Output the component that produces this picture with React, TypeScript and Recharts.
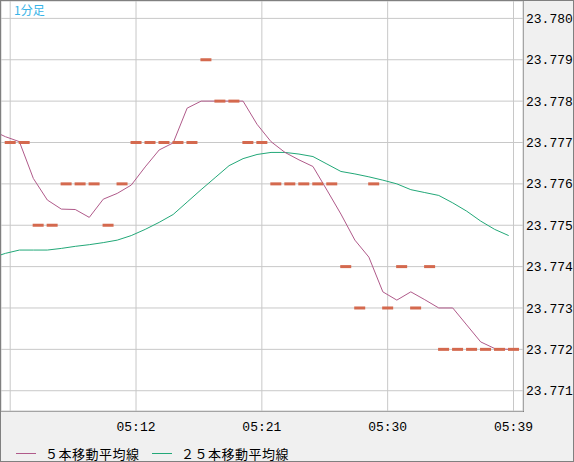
import { CartesianGrid, ComposedChart, Line, Scatter, XAxis, YAxis } from "recharts";

// one-minute bars, 05:02 .. 05:39 (05:02 only feeds the averages, its bar is off the left edge)
const times = [
  "05:02", "05:03", "05:04", "05:05", "05:06", "05:07", "05:08", "05:09", "05:10", "05:11",
  "05:12", "05:13", "05:14", "05:15", "05:16", "05:17", "05:18", "05:19", "05:20", "05:21",
  "05:22", "05:23", "05:24", "05:25", "05:26", "05:27", "05:28", "05:29", "05:30", "05:31",
  "05:32", "05:33", "05:34", "05:35", "05:36", "05:37", "05:38", "05:39",
];
const close = [
  null, 23.777, 23.777, 23.775, 23.775, 23.776, 23.776, 23.776, 23.775, 23.776,
  23.777, 23.777, 23.777, 23.777, 23.777, 23.779, 23.778, 23.778, 23.777, 23.777,
  23.776, 23.776, 23.776, 23.776, 23.776, 23.774, 23.773, 23.776, 23.773, 23.774,
  23.773, 23.774, 23.772, 23.772, 23.772, 23.772, 23.772, 23.772,
];
const ma5 = [
  23.7773, 23.77714, 23.77702, 23.77613, 23.77561, 23.77539, 23.77538, 23.77519, 23.77563, 23.77577,
  23.77597, 23.77641, 23.77682, 23.77699, 23.77783, 23.778, 23.778, 23.778, 23.778, 23.77744,
  23.77702, 23.77676, 23.77658, 23.77642, 23.77585, 23.77527, 23.77464, 23.77423, 23.77339, 23.77319,
  23.77339, 23.7732, 23.773, 23.773, 23.77259, 23.77218, 23.77202, 23.772,
];
const ma25 = [
  23.77421, 23.77432, 23.7744, 23.7744, 23.7744, 23.77444, 23.77449, 23.77453, 23.77458, 23.77464,
  23.77475, 23.7749, 23.77507, 23.77526, 23.77556, 23.77586, 23.77615, 23.77644, 23.77661, 23.77671,
  23.77676, 23.77676, 23.77672, 23.77666, 23.77648, 23.7763, 23.77624, 23.77617, 23.77609, 23.776,
  23.77586, 23.77579, 23.77572, 23.77554, 23.77534, 23.7751, 23.7749, 23.77475,
];

const xTicks = [3, 12, 21, 30, 39];
const xTickLabels = ["", "05:12", "05:21", "05:30", "05:39"];
const yTicks = [23.771, 23.772, 23.773, 23.774, 23.775, 23.776, 23.777, 23.778, 23.779, 23.78];

const PURPLE = "#b05a8a";
const GREEN = "#22a878";
const BAR = "#d4694e";
const MONO = "'Liberation Mono', 'DejaVu Sans Mono', monospace";
const JP = "'Noto Sans CJK JP', sans-serif";

const rows = times.map((t, i) => ({
  m: parseInt(t.slice(3), 10),
  close: close[i],
  ma5: ma5[i],
  ma25: ma25[i],
}));
const bars = rows.filter((r) => r.close != null);

function BarTick(props: any) {
  const { cx, cy } = props;
  if (cx == null || cy == null) return null;
  return <rect x={cx - 5.5} y={cy - 1.5} width={11} height={3} fill={BAR} />;
}

export default function App() {
  return (
    <div
      style={{
        position: "absolute",
        left: 0,
        top: 0,
        width: 574,
        height: 462,
        boxSizing: "border-box",
        border: "1px solid #808080",
        background: "#f0f0f0",
        overflow: "hidden",
      }}
    >
      <div
        style={{
          position: "absolute",
          left: -1,
          top: -1,
          width: 524,
          height: 412,
          boxSizing: "border-box",
          border: "1px solid #808080",
          background: "#fff",
        }}
      />
      <div style={{ position: "absolute", left: -1, top: -1 }}>
        <ComposedChart width={574} height={462} data={rows} margin={{ top: 1, left: 1, right: 0, bottom: 0 }}>
          <CartesianGrid xAxisId="c" stroke="#c8c8c8" />
          <XAxis
            xAxisId="c"
            dataKey="m"
            type="number"
            domain={[2.342, 39.68]}
            allowDataOverflow
            ticks={xTicks}
            tickFormatter={(v: number) => xTickLabels[xTicks.indexOf(v)] ?? ""}
            axisLine={false}
            tickLine={false}
            tickSize={0}
            tickMargin={11}
            height={51}
            interval={0}
            tick={{ fill: "#000", fontSize: 13, fontFamily: MONO }}
          />
          <XAxis xAxisId="ma" dataKey="m" type="number" domain={[2.685, 40.025]} allowDataOverflow hide />
          <YAxis
            orientation="right"
            type="number"
            domain={[23.77051, 23.78042]}
            allowDataOverflow
            ticks={yTicks}
            interval={0}
            tickFormatter={(v: number) => v.toFixed(3)}
            axisLine={false}
            tickLine={false}
            tickSize={0}
            tickMargin={3}
            width={51}
            tick={{ fill: "#000", fontSize: 13, fontFamily: MONO }}
          />
          <Line
            xAxisId="ma"
            dataKey="ma25"
            stroke={GREEN}
            strokeWidth={1}
            dot={false}
            activeDot={false}
            isAnimationActive={false}
          />
          <Scatter xAxisId="c" data={bars} dataKey="close" shape={BarTick} isAnimationActive={false} />
          <Line
            xAxisId="ma"
            dataKey="ma5"
            stroke={PURPLE}
            strokeWidth={1}
            dot={false}
            activeDot={false}
            isAnimationActive={false}
          />
        </ComposedChart>
      </div>
      <div
        style={{
          position: "absolute",
          left: 13,
          top: 3,
          fontFamily: JP,
          fontSize: 12,
          lineHeight: "12px",
          color: "#38b4e8",
        }}
      >
        1分足
      </div>
      {[
        { label: "５本移動平均線", color: PURPLE, x: 16 },
        { label: "２５本移動平均線", color: GREEN, x: 152 },
      ].map((it) => (
        <div key={it.label} style={{ position: "absolute", left: it.x - 1, top: 443, height: 18, display: "flex", alignItems: "center" }}>
          <div style={{ width: 20, height: 1, background: it.color, marginRight: 9 }} />
          <span style={{ fontFamily: JP, fontSize: 13, color: "#000", letterSpacing: 0.5 }}>{it.label}</span>
        </div>
      ))}
    </div>
  );
}
